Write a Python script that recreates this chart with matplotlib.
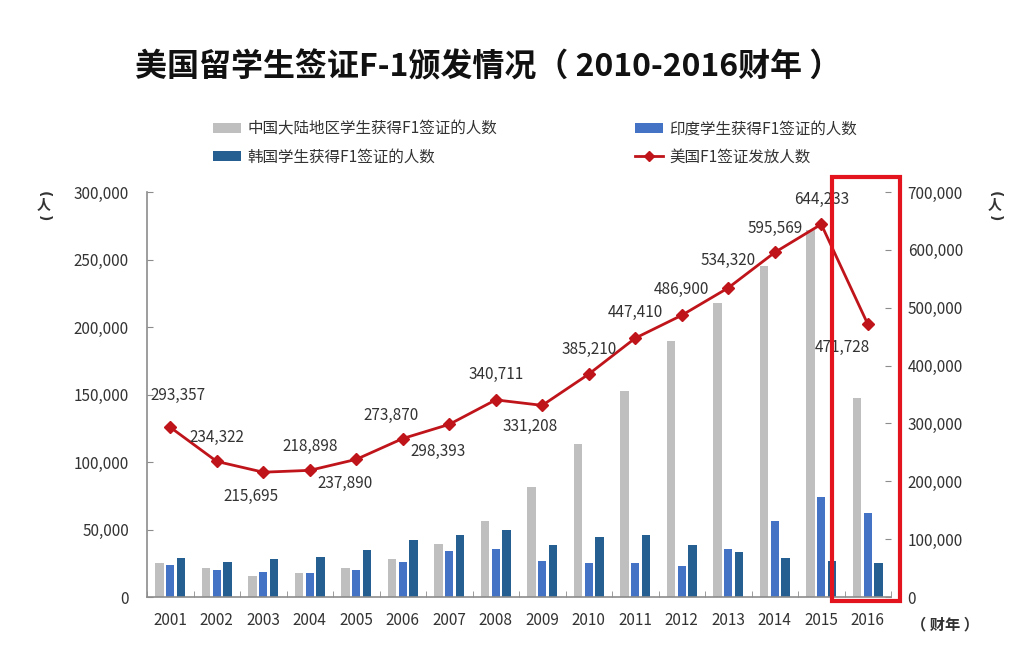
import matplotlib
matplotlib.use("Agg")
import matplotlib.pyplot as plt
from matplotlib.patches import Patch, Rectangle
from matplotlib.lines import Line2D
from matplotlib.ticker import FuncFormatter, MultipleLocator
import numpy as np

plt.rcParams['font.family'] = ['Noto Sans CJK SC', 'DejaVu Sans']

# ---------------- data ----------------
years = ['2001', '2002', '2003', '2004', '2005', '2006', '2007', '2008',
         '2009', '2010', '2011', '2012', '2013', '2014', '2015', '2016']
china = [25200, 21500, 15800, 17800, 21500, 27900, 39300, 56300,
         81500, 113300, 152300, 189300, 217800, 244900, 272000, 147400]
india = [23700, 20200, 18700, 17500, 20000, 25900, 33800, 35800,
         26400, 25200, 25200, 23200, 35600, 56000, 74300, 62200]
korea = [28600, 26100, 28400, 29300, 34800, 42200, 45600, 49900,
         38700, 44200, 45600, 38700, 33300, 28900, 26400, 25200]
us_total = [293357, 234322, 215695, 218898, 237890, 273870, 298393, 340711,
            331208, 385210, 447410, 486900, 534320, 595569, 644233, 471728]

series_names = ['中国大陆地区学生获得F1签证的人数', '印度学生获得F1签证的人数',
                '韩国学生获得F1签证的人数', '美国F1签证发放人数']
title = '美国留学生签证F-1颁发情况（ 2010-2016财年 ）'

# label offsets in pixels (style)
lab_dx = [8, 0, -12, 0, -11, -12, -11, 0, -12, 0, 0, 0, 0, 0, 0, -25]
lab_dy = [32, 24, -24, 24, -24, 23, -27, 25, -21, 25, 26, 26, 27, 24, 25, -23]

# ---------------- style ----------------
W, H = 1028, 658
C_GRAY = '#BFBFBF'
C_BLUE = '#4472C4'
C_DARK = '#255E91'
C_RED = '#C0141B'
C_BOX = '#E3141E'
C_AXIS = '#8C8C8C'
C_TEXT = '#333333'

fig = plt.figure(figsize=(W / 100, H / 100), dpi=100)
ax = fig.add_axes([147 / W, 1 - 597 / H, (891 - 147) / W, (597 - 192) / H])

x = np.arange(len(years))
bw = 0.18
off = 0.235
ax.bar(x - off, china, bw, color=C_GRAY, zorder=2)
ax.bar(x, india, bw, color=C_BLUE, zorder=2)
ax.bar(x + off, korea, bw, color=C_DARK, zorder=2)

ax.set_xlim(-0.5, len(years) - 0.5)
ax.set_ylim(0, 300000)
ax.yaxis.set_major_locator(MultipleLocator(50000))
fmt = FuncFormatter(lambda v, p: f'{int(v):,}')
ax.yaxis.set_major_formatter(fmt)

for s in ['top', 'right']:
    ax.spines[s].set_visible(False)
for s in ['left', 'bottom']:
    ax.spines[s].set_color(C_AXIS)
    ax.spines[s].set_linewidth(1.2)

ax.set_xticks(x)
ax.set_xticklabels(years)
ax.set_xticks(np.arange(-0.5, len(years), 1.0), minor=True)
ax.tick_params(axis='x', which='major', length=0, pad=11, labelsize=11, labelcolor=C_TEXT)
ax.tick_params(axis='x', which='minor', direction='in', length=4, color=C_AXIS)
ax.tick_params(axis='y', direction='in', length=4, color=C_AXIS, pad=13,
               labelsize=11, labelcolor=C_TEXT)

ax2 = ax.twinx()
ax2.set_ylim(0, 700000)
ax2.yaxis.set_major_locator(MultipleLocator(100000))
ax2.yaxis.set_major_formatter(fmt)
for s in ['top', 'left', 'bottom', 'right']:
    ax2.spines[s].set_visible(False)
ax2.tick_params(axis='y', direction='in', length=4, color=C_AXIS, pad=12,
                labelsize=11, labelcolor=C_TEXT)

ax2.plot(x, us_total, color=C_RED, lw=2.0, marker='D', markersize=6.5,
         markerfacecolor=C_RED, markeredgecolor=C_RED, zorder=3)
for i, v in enumerate(us_total):
    ax2.annotate(f'{v:,}', (x[i], v), xytext=(lab_dx[i], lab_dy[i]),
                 textcoords='offset pixels', ha='center', va='center',
                 fontsize=11, color=C_TEXT)

# red highlight box around the last period
ax2.add_patch(Rectangle((14.23, -7000), 1.46, 726000 + 7000,
                        fill=False, edgecolor=C_BOX, lw=3, clip_on=False, zorder=5))

# title
fig.text(488 / W, 1 - 67 / H, title, ha='center', va='center',
         fontsize=23, fontweight='bold', color='#111111')

# legends
handles = [Patch(facecolor=C_GRAY), Patch(facecolor=C_BLUE), Patch(facecolor=C_DARK),
           Line2D([0], [0], color=C_RED, lw=2, marker='D', markersize=5)]
leg_pos = [(213, 129), (635, 129), (213, 157), (635, 157)]
for h, name, (px, py) in zip(handles, series_names, leg_pos):
    fig.legend([h], [name], loc='center left', bbox_to_anchor=(px / W, 1 - py / H),
               frameon=False, borderpad=0, borderaxespad=0, handlelength=1.8,
               handleheight=0.6, handletextpad=0.4, fontsize=11.2,
               labelcolor=C_TEXT)

# unit labels (vertical "（人）")
for px in (44, 995):
    fig.text(px / W, 1 - 194 / H, '(', ha='center', va='center', rotation=270,
             rotation_mode='anchor', fontsize=10, color=C_TEXT, fontweight='bold',
             family='DejaVu Sans')
    fig.text(px / W, 1 - 206 / H, '人', ha='center', va='center',
             fontsize=10, color=C_TEXT, fontweight='bold')
    fig.text(px / W, 1 - 218 / H, ')', ha='center', va='center', rotation=270,
             rotation_mode='anchor', fontsize=10, color=C_TEXT, fontweight='bold',
             family='DejaVu Sans')
fig.text(945 / W, 1 - 624 / H, '（ 财年 ）', ha='center', va='center',
         fontsize=11, color=C_TEXT, fontweight='bold')

fig.savefig('out.png', dpi=100)
